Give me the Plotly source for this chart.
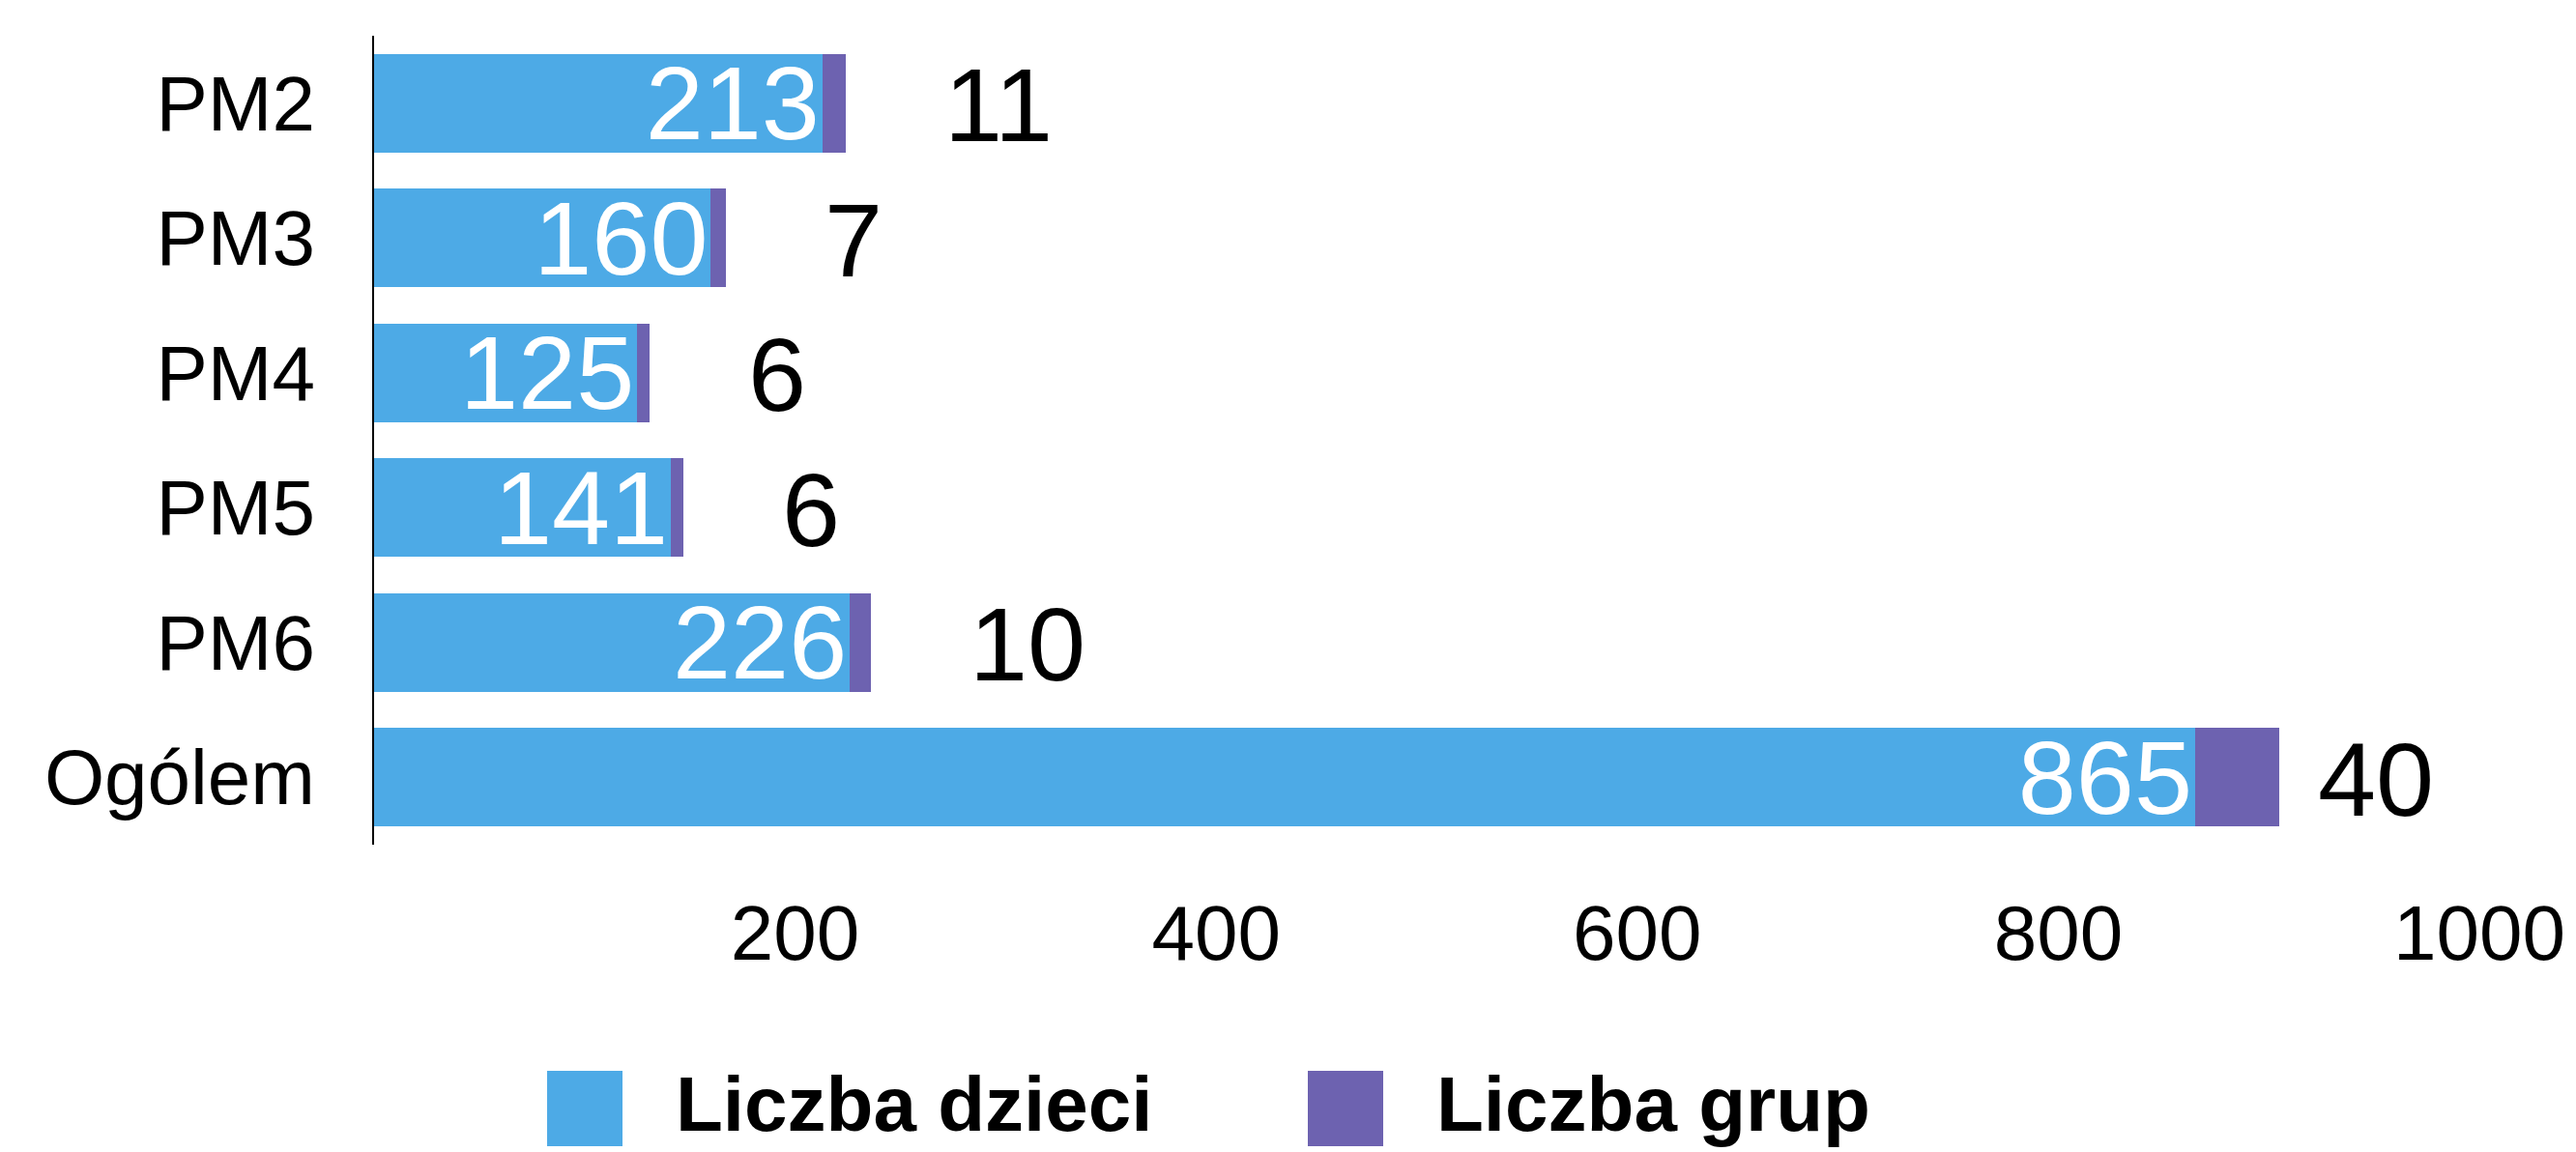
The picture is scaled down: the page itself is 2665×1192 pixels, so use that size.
import plotly.graph_objects as go

# --- data -------------------------------------------------------------
categories = ["PM2", "PM3", "PM4", "PM5", "PM6", "Ogólem"]
liczba_dzieci = [213, 160, 125, 141, 226, 865]
liczba_grup = [11, 7, 6, 6, 10, 40]
x_tickvals = [200, 400, 600, 800, 1000]
series_names = ["Liczba dzieci", "Liczba grup"]

# --- style ------------------------------------------------------------
W, H = 2665, 1192
M_L, M_R, M_T, M_B = 387, 100, 37, 318
BLUE = "#4DAAE6"
PURPLE = "#6D62B0"
FONT = "Liberation Sans"
group_label_gap = [100, 100, 100, 100, 100, 38]  # px gap after each stacked bar

fig = go.Figure()

fig.add_trace(go.Bar(
    y=categories, x=liczba_dzieci, orientation="h",
    name=series_names[0], marker=dict(color=BLUE, line=dict(width=0)),
    text=[str(v) for v in liczba_dzieci], textposition="inside",
    insidetextanchor="end", constraintext="none",
    textfont=dict(family=FONT, size=108, color="white"),
    showlegend=False,
))
fig.add_trace(go.Bar(
    y=categories, x=liczba_grup, orientation="h",
    name=series_names[1], marker=dict(color=PURPLE, line=dict(width=0)),
    showlegend=False,
))

# group counts written to the right of each stacked bar
for cat, d, g, gap in zip(categories, liczba_dzieci, liczba_grup, group_label_gap):
    fig.add_annotation(
        x=d + g, y=cat, xref="x", yref="y", text=str(g), showarrow=False,
        xanchor="left", yanchor="middle", xshift=gap, yshift=-2,
        font=dict(family=FONT, size=108, color="black"),
    )

# legend drawn as large swatches with bold captions below the plot
plot_w = W - M_L - M_R
plot_h = H - M_T - M_B
def px_x(px):
    return (px - M_L) / plot_w
def px_y(py):
    return (H - M_B - py) / plot_h

legend_items = [(series_names[0], BLUE, 566, 697), (series_names[1], PURPLE, 1353, 1484)]
for name, color, sx, tx in legend_items:
    fig.add_shape(type="rect", xref="paper", yref="paper",
                  x0=px_x(sx), x1=px_x(sx + 78), y0=px_y(1108), y1=px_y(1186),
                  fillcolor=color, line=dict(width=0))
    fig.add_annotation(x=px_x(tx), y=px_y(1142), xref="paper", yref="paper",
                       text=f"<b>{name}</b>", showarrow=False,
                       xanchor="left", yanchor="middle",
                       font=dict(family=FONT, size=80, color="black"))

fig.update_layout(
    width=W, height=H,
    margin=dict(l=M_L, r=M_R, t=M_T, b=M_B, pad=0),
    barmode="stack", bargap=0.27,
    plot_bgcolor="white", paper_bgcolor="white",
    font=dict(family=FONT, color="black"),
)
fig.update_xaxes(
    range=[0, 1000], tickvals=x_tickvals, ticktext=[str(v) for v in x_tickvals],
    showgrid=False, zeroline=False, showline=False, ticks="",
    tickfont=dict(family=FONT, size=80, color="black"),
    ticklabelstandoff=38,
)
fig.update_yaxes(
    categoryorder="array", categoryarray=categories, autorange="reversed",
    showgrid=False, zeroline=False, showline=True, linecolor="black", linewidth=2,
    ticks="", tickfont=dict(family=FONT, size=80, color="black"),
    ticklabelstandoff=43,
)

fig.write_html("out.html")
